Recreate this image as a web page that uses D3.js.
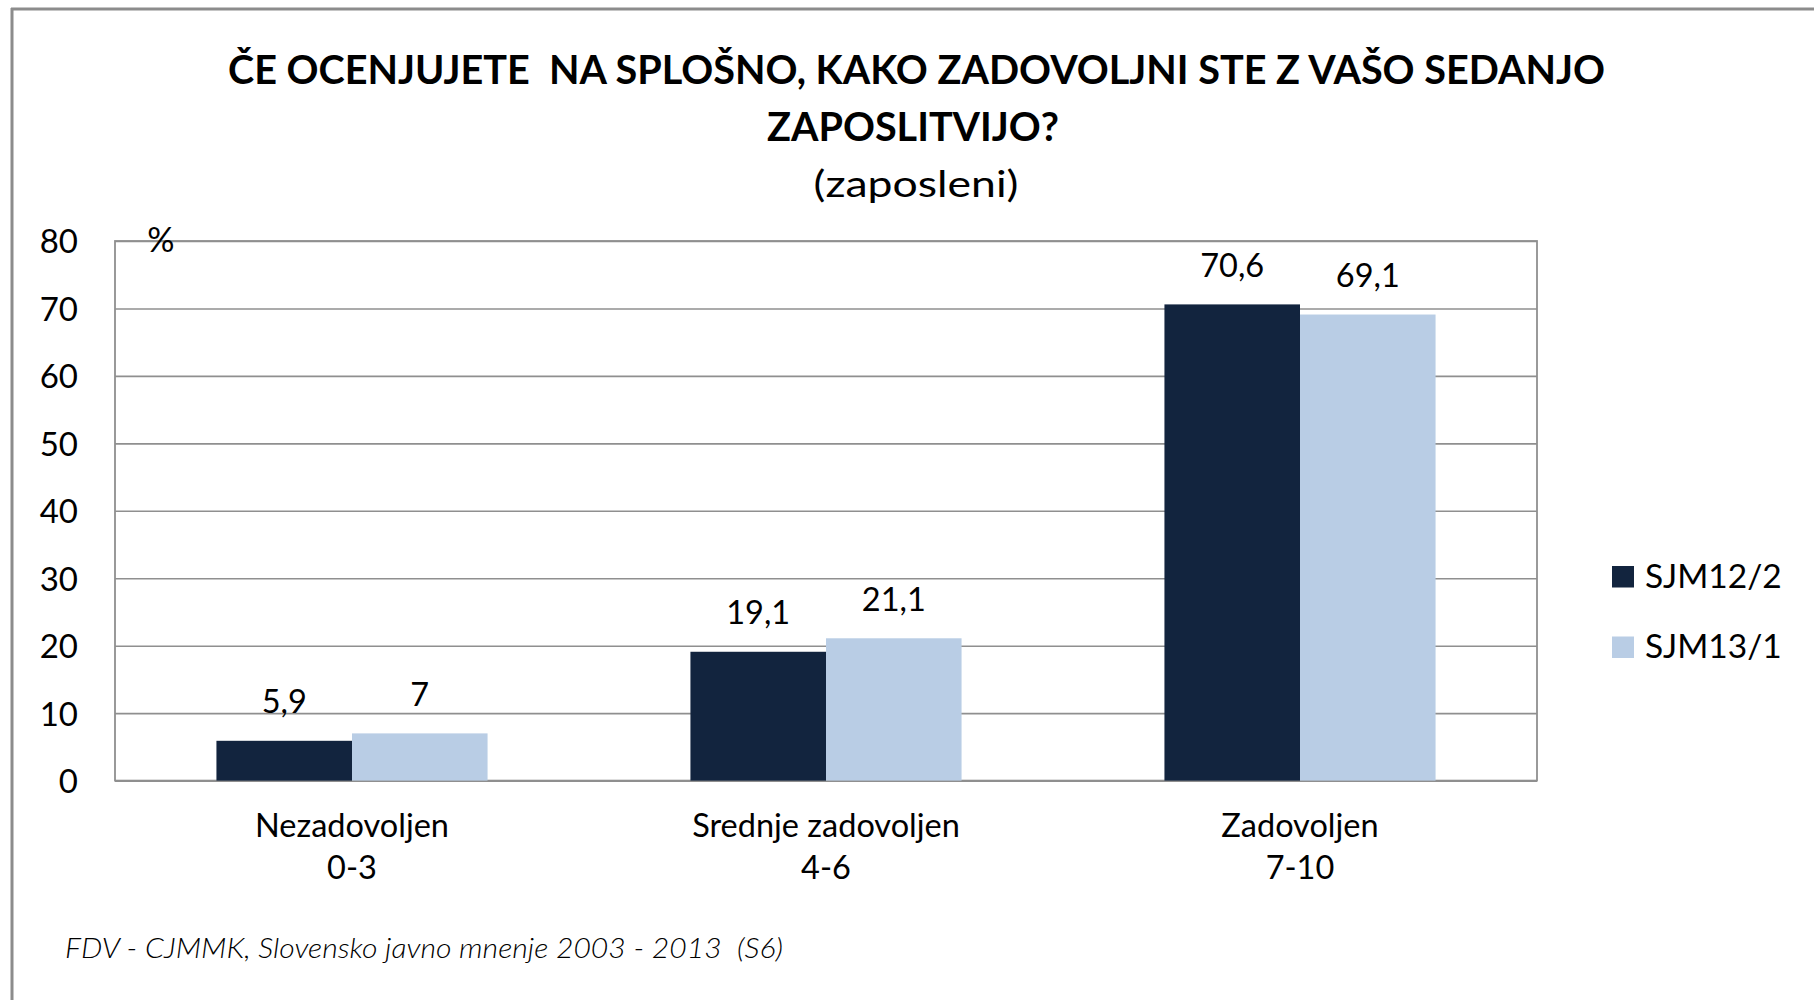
<!DOCTYPE html>
<html>
<head>
<meta charset="utf-8">
<script src="https://cdn.jsdelivr.net/npm/d3@7"></script>
<style>
  html, body { margin: 0; padding: 0; background: #fff; }
  svg { display: block; }
  text { font-family: Lato, "Open Sans", sans-serif; fill: #000; }
</style>
</head>
<body>
<svg id="chart" width="1814" height="1000"></svg>
<script>
const titleLines = ["ČE OCENJUJETE  NA SPLOŠNO, KAKO ZADOVOLJNI STE Z VAŠO SEDANJO", "ZAPOSLITVIJO?"];
const subtitle = "(zaposleni)";
const categories = ["Nezadovoljen\n0-3", "Srednje zadovoljen\n4-6", "Zadovoljen\n7-10"];
const seriesNames = ["SJM12/2", "SJM13/1"];
const sjm12_2 = [5.9, 19.1, 70.6];
const sjm13_1 = [7, 21.1, 69.1];
const yTicks = [0, 10, 20, 30, 40, 50, 60, 70, 80];
const yUnit = "%";
const footer = "FDV - CJMMK, Slovensko javno mnenje 2003 - 2013  (S6)";
const colors = ["#12243e", "#b9cde5"];

const seriesValues = [sjm12_2, sjm13_1];
const svg = d3.select("#chart");
const LBL = 32.5;

// outer frame (top and left edges visible)
svg.append("line").attr("x1", 11).attr("x2", 1814).attr("y1", 9).attr("y2", 9)
  .attr("stroke", "#8c8c8c").attr("stroke-width", 3);
svg.append("line").attr("x1", 12).attr("x2", 12).attr("y1", 8).attr("y2", 1000)
  .attr("stroke", "#8c8c8c").attr("stroke-width", 3);

const plot = {left: 115, right: 1537, top: 241, bottom: 780.6};

const x0 = d3.scaleBand().domain(categories).range([plot.left, plot.right])
  .paddingInner(0.428).paddingOuter(0.214);
const x1 = d3.scaleBand().domain(seriesNames).range([0, x0.bandwidth()]).padding(0);
const y = d3.scaleLinear().domain([0, 80]).range([plot.bottom, plot.top]);

function fitText(sel, width) {
  const w = sel.node().getComputedTextLength();
  if (Math.abs(w - width) > 2) sel.attr("textLength", width).attr("lengthAdjust", "spacingAndGlyphs");
}

// title
const t1 = svg.append("text").attr("x", 916.5).attr("y", 83.5).attr("text-anchor", "middle")
  .attr("font-size", 40).attr("font-weight", "bold").style("white-space", "pre").text(titleLines[0]);
fitText(t1, 1377);
const t2 = svg.append("text").attr("x", 913).attr("y", 140.5).attr("text-anchor", "middle")
  .attr("font-size", 40).attr("font-weight", "bold").text(titleLines[1]);
fitText(t2, 292);
const t3 = svg.append("text").attr("x", 916).attr("y", 197).attr("text-anchor", "middle")
  .attr("font-size", 36).text(subtitle);
fitText(t3, 205);

// gridlines via d3.axisLeft
const gridG = svg.append("g").attr("transform", `translate(${plot.left},0)`);
gridG.call(d3.axisLeft(y).tickValues(yTicks).tickSize(-(plot.right - plot.left)).tickFormat(""))
  .call(g => g.select(".domain").remove())
  .call(g => g.selectAll(".tick line").attr("stroke", "#8f8f8f").attr("stroke-width", 1.6));

// plot frame
svg.append("rect").attr("x", plot.left).attr("y", plot.top)
  .attr("width", plot.right - plot.left).attr("height", plot.bottom - plot.top)
  .attr("fill", "none").attr("stroke", "#8f8f8f").attr("stroke-width", 1.8);

// y tick labels
const yAxisG = svg.append("g").attr("transform", `translate(78,0)`);
yAxisG.call(d3.axisLeft(y).tickValues(yTicks).tickSize(0).tickPadding(0))
  .call(g => g.select(".domain").remove())
  .call(g => g.selectAll(".tick text").attr("font-size", 33).attr("font-family", "Lato, sans-serif")
    .attr("fill", "#000").attr("dy", "0.36em").attr("text-anchor", "end"));

svg.append("text").attr("x", 161).attr("y", 252).attr("text-anchor", "middle")
  .attr("font-size", 34).text(yUnit);

// bars
const groups = svg.append("g").selectAll("g").data(categories).join("g")
  .attr("transform", d => `translate(${x0(d)},0)`);
groups.selectAll("rect").data((d, i) => seriesNames.map((s, j) => ({s, v: seriesValues[j][i], j})))
  .join("rect")
  .attr("x", d => x1(d.s)).attr("width", x1.bandwidth())
  .attr("y", d => y(d.v)).attr("height", d => plot.bottom - y(d.v))
  .attr("fill", d => colors[d.j]);
groups.selectAll("text.lbl").data((d, i) => seriesNames.map((s, j) => ({s, v: seriesValues[j][i], j})))
  .join("text").attr("class", "lbl")
  .attr("x", d => x1(d.s) + x1.bandwidth() / 2).attr("y", d => y(d.v) - 27.5)
  .attr("text-anchor", "middle").attr("font-size", LBL)
  .text(d => String(d.v).replace(".", ","));

// x labels
categories.forEach(c => {
  const lines = c.split("\n");
  lines.forEach((l, k) => {
    svg.append("text").attr("x", x0(c) + x0.bandwidth() / 2).attr("y", 837 + k * 41.5)
      .attr("text-anchor", "middle").attr("font-size", LBL).text(l);
  });
});

// legend
seriesNames.forEach((s, i) => {
  const ly = 566 + i * 70.5;
  svg.append("rect").attr("x", 1612).attr("y", ly).attr("width", 22).attr("height", 21.5).attr("fill", colors[i]);
  svg.append("text").attr("x", 1645).attr("y", ly + 21.8).attr("font-size", 33.5).text(s);
});

// footer
const f = svg.append("text").attr("x", 65).attr("y", 958).attr("font-size", 27)
  .attr("font-style", "italic").attr("font-weight", 300).attr("fill", "#222")
  .style("white-space", "pre").text(footer);
fitText(f, 718);
</script>
</body>
</html>
